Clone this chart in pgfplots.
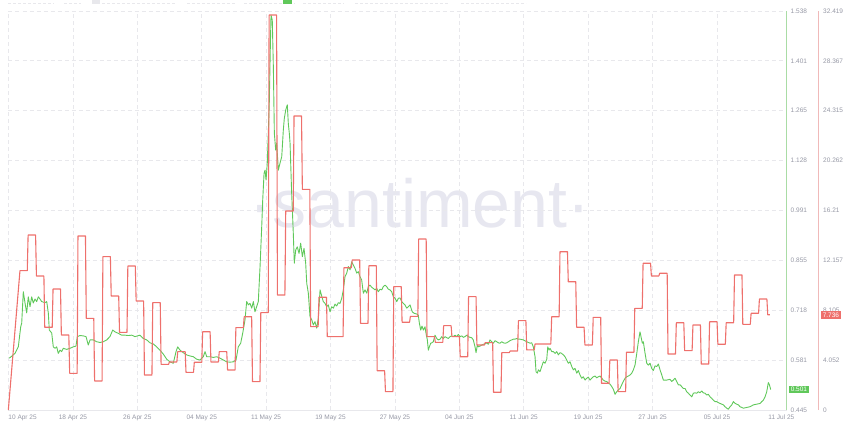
\documentclass[border=0pt]{standalone}
\usepackage{fontspec}
\setmainfont{Liberation Sans}
\usepackage{pgfplots}
\pgfplotsset{compat=1.18}
\definecolor{lgreen}{RGB}{96,200,90}
\definecolor{lred}{RGB}{238,112,108}
\definecolor{gaxis}{RGB}{170,220,165}
\definecolor{raxis}{RGB}{240,185,185}
\definecolor{tickgray}{RGB}{150,152,165}
\definecolor{gridgray}{RGB}{232,232,236}
\definecolor{wm}{RGB}{231,231,240}
\newcommand{\tfont}{\fontsize{6.5}{7}\selectfont}
\begin{document}
\begin{tikzpicture}[x=1pt,y=1pt]
\useasboundingbox (0,0) rectangle (850,428);
% cropped header strip
\foreach \a/\b in {8/54,64/81,92/176,187/236,244/295,303/344,355/449,461/526}
  {\draw[gridgray, line width=0.8pt, dash pattern=on 3pt off 2pt] (\a,424.5) -- (\b,424.5);}
\fill[lgreen] (283,424) rectangle (292,428);
\fill[gridgray] (92,424) rectangle (100,428);
\node[anchor=base, text=wm, font=\fontsize{68}{68}\selectfont, inner sep=0pt] at (420,200) {·santiment·};
\begin{axis}[
  at={(8.5pt,18pt)}, anchor=south west,
  scale only axis, width=778pt, height=399pt,
  xmin=-0.31, xmax=93.31, ymin=0.445, ymax=1.538,
  axis x line*=bottom, axis y line*=right,
  x axis line style={draw=gridgray, line width=0.8pt, -},
  y axis line style={draw=gaxis, line width=1pt, -},
  xtick={-0.31,7.44,15.19,22.94,30.69,38.44,46.19,53.94,61.69,69.44,77.19,84.94},
  xticklabels={\makebox[0pt][l]{10 Apr 25},18 Apr 25,26 Apr 25,04 May 25,11 May 25,19 May 25,27 May 25,04 Jun 25,11 Jun 25,19 Jun 25,27 Jun 25,05 Jul 25},
  extra x ticks={92.69}, extra x tick labels={11 Jul 25},
  extra x tick style={grid=none},
  ytick={0.445,0.58162,0.71825,0.85488,0.9915,1.12812,1.26475,1.40138,1.538},
  yticklabels={0.445,0.581,0.718,0.855,0.991,1.128,1.265,1.401,1.538},
  xmajorgrids, ymajorgrids,
  major grid style={draw=gridgray, line width=0.8pt, dash pattern=on 4pt off 3pt},
  major tick length=0pt,
  xticklabel style={font=\tfont, text=tickgray, inner sep=0pt, yshift=-4.5pt},
  yticklabel style={font=\tfont, text=tickgray, inner sep=0pt, xshift=4pt},
  clip=false,
]
\addplot[lgreen, line width=0.9pt, line join=round] coordinates {
(-0.21,0.587) (0.11,0.593) (0.47,0.600) (0.87,0.618) (1.16,0.673) (1.28,0.683) (1.47,0.769) (1.68,0.738) (1.88,0.711) (2.07,0.755) (2.28,0.728) (2.48,0.755) (2.67,0.738) (2.88,0.749) (3.08,0.742) (3.28,0.755) (3.48,0.749) (3.68,0.742) (4.08,0.739) (4.29,0.742) (4.48,0.711) (4.60,0.664) (4.89,0.656) (5.08,0.618) (5.29,0.614) (5.49,0.618) (5.68,0.600) (5.89,0.609) (6.09,0.605) (6.28,0.614) (6.69,0.611) (7.09,0.614) (7.49,0.618) (7.81,0.620) (7.97,0.646) (8.29,0.649) (8.69,0.648) (9.02,0.646) (9.29,0.623) (9.50,0.637) (9.89,0.637) (10.30,0.632) (10.70,0.630) (11.10,0.632) (11.51,0.637) (11.90,0.646) (12.23,0.664) (12.51,0.659) (12.90,0.655) (13.31,0.650) (13.71,0.650) (14.11,0.649) (14.52,0.650) (14.91,0.646) (15.51,0.650) (15.91,0.641) (16.32,0.637) (16.72,0.629) (17.11,0.626) (17.52,0.618) (17.92,0.609) (18.32,0.598) (18.73,0.584) (19.12,0.577) (19.52,0.573) (19.85,0.605) (20.05,0.618) (20.33,0.609) (20.72,0.602) (21.13,0.596) (21.53,0.593) (21.93,0.591) (22.34,0.584) (22.73,0.582) (23.13,0.591) (23.34,0.605) (23.54,0.591) (23.94,0.591) (24.34,0.589) (24.74,0.591) (25.14,0.587) (25.54,0.582) (25.95,0.577) (26.35,0.576) (26.74,0.577) (27.07,0.582) (27.34,0.618) (27.63,0.628) (27.87,0.655) (28.15,0.692) (28.35,0.742) (28.55,0.733) (28.75,0.737) (28.96,0.724) (29.15,0.742) (29.35,0.714) (29.75,0.742) (29.96,0.838) (30.16,0.947) (30.28,1.020) (30.44,1.093) (30.56,1.102) (30.68,1.075) (30.83,1.121) (30.95,1.203) (31.07,1.285) (31.19,1.431) (31.28,1.527) (31.43,1.513) (31.56,1.385) (31.68,1.203) (31.84,1.157) (31.96,1.176) (32.16,1.102) (32.36,1.121) (32.57,1.139) (32.76,1.212) (32.88,1.244) (33.05,1.267) (33.24,1.281) (33.36,1.230) (33.48,1.203) (33.57,1.176) (33.75,1.048) (33.96,0.929) (34.08,0.847) (34.25,0.883) (34.44,0.892) (34.65,0.874) (34.85,0.902) (35.05,0.865) (35.25,0.888) (35.45,0.847) (35.58,0.792) (35.77,0.765) (35.97,0.701) (36.18,0.692) (36.37,0.678) (36.57,0.687) (36.78,0.669) (36.97,0.697) (37.18,0.774) (37.38,0.757) (37.57,0.742) (37.78,0.737) (37.98,0.728) (38.17,0.733) (38.38,0.714) (38.58,0.728) (38.78,0.724) (38.98,0.735) (39.19,0.730) (39.38,0.739) (39.58,0.737) (39.79,0.751) (39.98,0.774) (40.18,0.810) (40.39,0.820) (40.58,0.838) (40.79,0.829) (40.99,0.851) (41.18,0.842) (41.39,0.833) (41.59,0.820) (41.78,0.824) (41.99,0.810) (42.19,0.801) (42.39,0.765) (42.59,0.774) (42.80,0.765) (42.99,0.783) (43.19,0.787) (43.40,0.781) (43.59,0.778) (43.79,0.774) (44.00,0.778) (44.19,0.769) (44.40,0.776) (44.60,0.774) (44.79,0.783) (45.00,0.787) (45.20,0.783) (45.39,0.776) (45.60,0.774) (45.80,0.769) (46.00,0.755) (46.20,0.751) (46.41,0.742) (46.60,0.751) (46.80,0.752) (47.01,0.742) (47.20,0.737) (47.40,0.733) (47.61,0.724) (47.80,0.728) (48.01,0.733) (48.13,0.724) (48.28,0.714) (48.49,0.710) (48.81,0.708) (49.00,0.705) (49.13,0.683) (49.29,0.664) (49.45,0.675) (49.61,0.664) (49.81,0.673) (49.93,0.655) (50.09,0.637) (50.21,0.609) (50.33,0.618) (50.50,0.628) (50.62,0.629) (50.81,0.632) (51.01,0.650) (51.22,0.641) (51.41,0.637) (51.62,0.639) (51.82,0.646) (52.01,0.641) (52.22,0.646) (52.42,0.643) (52.62,0.641) (52.82,0.646) (53.02,0.648) (53.22,0.646) (53.42,0.650) (53.63,0.646) (53.82,0.652) (54.02,0.646) (54.23,0.648) (54.42,0.644) (54.62,0.646) (54.83,0.650) (55.02,0.646) (55.23,0.644) (55.43,0.643) (55.62,0.637) (55.83,0.618) (55.95,0.602) (56.11,0.623) (56.23,0.618) (56.43,0.620) (56.63,0.623) (56.83,0.625) (57.03,0.626) (57.24,0.629) (57.43,0.625) (57.63,0.637) (57.84,0.632) (58.03,0.628) (58.24,0.635) (58.44,0.632) (58.63,0.629) (58.84,0.628) (59.04,0.632) (59.23,0.629) (59.44,0.628) (59.64,0.629) (59.84,0.632) (60.04,0.635) (60.24,0.637) (60.44,0.639) (60.64,0.639) (60.85,0.641) (61.04,0.639) (61.24,0.639) (61.64,0.637) (62.05,0.632) (62.45,0.628) (62.65,0.629) (62.84,0.618) (63.05,0.591) (63.17,0.550) (63.33,0.546) (63.45,0.555) (63.65,0.550) (63.85,0.564) (64.05,0.577) (64.25,0.573) (64.46,0.584) (64.58,0.618) (64.73,0.609) (64.85,0.614) (65.06,0.605) (65.25,0.605) (65.46,0.600) (65.66,0.605) (65.85,0.596) (66.06,0.602) (66.26,0.600) (66.45,0.596) (66.66,0.591) (66.86,0.582) (67.06,0.573) (67.26,0.577) (67.47,0.564) (67.66,0.555) (67.86,0.559) (68.07,0.546) (68.26,0.553) (68.46,0.541) (68.67,0.532) (68.86,0.536) (69.07,0.527) (69.27,0.532) (69.46,0.535) (69.67,0.527) (69.87,0.532) (70.06,0.536) (70.27,0.538) (70.47,0.533) (70.67,0.536) (70.87,0.538) (71.08,0.532) (71.27,0.527) (71.47,0.524) (71.68,0.523) (71.87,0.518) (72.07,0.516) (72.28,0.509) (72.47,0.502) (72.68,0.488) (72.88,0.495) (73.07,0.500) (73.28,0.504) (73.48,0.514) (73.67,0.523) (73.88,0.532) (74.08,0.536) (74.28,0.538) (74.48,0.541) (74.69,0.546) (74.88,0.555) (75.08,0.568) (75.29,0.600) (75.48,0.632) (75.68,0.659) (75.80,0.646) (75.96,0.628) (76.08,0.632) (76.29,0.600) (76.49,0.573) (76.68,0.568) (76.89,0.573) (77.09,0.559) (77.28,0.553) (77.49,0.566) (77.69,0.564) (77.89,0.571) (78.09,0.555) (78.30,0.541) (78.49,0.527) (78.90,0.527) (79.29,0.529) (79.50,0.523) (79.69,0.527) (79.90,0.532) (80.10,0.523) (80.29,0.514) (80.50,0.514) (80.70,0.509) (80.89,0.504) (81.10,0.504) (81.30,0.495) (81.50,0.491) (81.70,0.486) (81.91,0.481) (82.10,0.491) (82.30,0.492) (82.51,0.491) (82.70,0.495) (82.90,0.492) (83.11,0.497) (83.30,0.492) (83.51,0.491) (83.71,0.486) (83.90,0.488) (84.11,0.481) (84.31,0.477) (84.51,0.472) (84.71,0.468) (84.91,0.468) (85.11,0.465) (85.31,0.463) (85.52,0.461) (85.71,0.459) (85.91,0.454) (86.12,0.450) (86.31,0.447) (86.51,0.454) (86.72,0.459) (86.91,0.468) (87.12,0.463) (87.32,0.461) (87.51,0.459) (87.72,0.454) (87.92,0.452) (88.12,0.450) (88.52,0.452) (88.92,0.454) (89.32,0.459) (89.73,0.461) (90.12,0.463) (90.33,0.468) (90.52,0.472) (90.73,0.481) (90.93,0.495) (91.12,0.520) (91.24,0.515) (91.41,0.501)
};
\node[fill=lgreen, text=white, anchor=west, inner sep=1.6pt, font=\tfont] at (axis cs:93.31,0.501) [xshift=2.5pt] {0.501};
\end{axis}
\begin{axis}[
  at={(8.5pt,18pt)}, anchor=south west,
  scale only axis, width=778pt, height=399pt,
  xmin=-0.31, xmax=93.31, ymin=0, ymax=32.419,
  hide x axis, axis y line*=right,
  y axis line style={draw=raxis, line width=1pt, -, xshift=32pt},
  ytick={0,4.052375,8.10475,12.157125,16.2095,20.261875,24.31425,28.366625,32.419},
  yticklabels={0,4.052,8.105,12.157,16.21,20.262,24.315,28.367,32.419},
  major tick length=0pt,
  yticklabel style={font=\tfont, text=tickgray, inner sep=0pt, xshift=36.5pt},
  clip=false,
]
\addplot[lred, line width=1.1pt, line join=round] coordinates {
(-0.33,0) (1.07,11.32)
(1.95,11.32) (2.05,14.22) (2.95,14.22) (3.05,10.89) (3.95,10.89) (4.05,6.72) (4.95,6.72) (5.05,9.83)
(5.95,9.83) (6.05,6.09) (6.95,6.09) (7.05,2.98) (7.95,2.98) (8.05,14.14) (8.95,14.14) (9.05,7.45)
(9.95,7.45) (10.05,2.36) (10.95,2.36) (11.05,12.46) (11.95,12.46) (12.05,9.26) (12.95,9.26) (13.05,6.31)
(13.95,6.31) (14.05,11.70) (14.95,11.70) (15.05,8.86) (15.95,8.86) (16.05,2.84) (16.95,2.84) (17.05,8.72)
(17.95,8.72) (18.05,3.71) (18.95,3.71) (19.05,3.90) (19.95,3.90) (20.05,4.74) (20.95,4.74) (21.05,3.06)
(21.95,3.06) (22.05,3.88) (22.95,3.88) (23.05,6.36) (23.95,6.36) (24.05,3.90) (24.95,3.90) (25.05,4.74)
(25.95,4.74) (26.05,3.25) (26.95,3.25) (27.05,6.69) (27.95,6.69) (28.05,7.58) (28.95,7.58) (29.05,2.30)
(29.95,2.30) (30.05,7.91) (30.95,7.91) (31.05,32.09) (31.95,32.09) (32.05,9.34) (32.95,9.34) (33.05,16.17)
(33.95,16.17) (34.05,23.89) (34.95,23.89) (35.05,17.93) (35.95,17.93) (36.05,6.77) (36.95,6.77) (37.05,9.16)
(37.95,9.16) (38.05,5.96) (38.95,5.96) (39.05,5.96) (39.95,5.96) (40.05,11.56) (40.95,11.56) (41.05,12.19)
(41.95,12.19) (42.05,7.04) (42.95,7.04) (43.05,11.72) (43.95,11.72) (44.05,3.19) (44.95,3.19) (45.05,1.49)
(45.95,1.49) (46.05,10.02) (46.95,10.02) (47.05,7.13) (47.95,7.13) (48.05,7.61) (48.95,7.61) (49.05,13.89)
(49.95,13.89) (50.05,5.96) (50.95,5.96) (51.05,5.50) (51.95,5.50) (52.05,6.85) (52.95,6.85) (53.05,5.96)
(53.95,5.96) (54.05,4.33) (54.95,4.33) (55.05,9.21) (55.95,9.21) (56.05,5.28) (56.95,5.28) (57.05,5.47)
(57.95,5.47) (58.05,1.44) (58.95,1.44) (59.05,4.66) (59.95,4.66) (60.05,4.79) (60.95,4.79) (61.05,7.26)
(61.95,7.26) (62.05,4.88) (62.95,4.88) (63.05,5.36) (63.95,5.36) (64.05,5.36) (64.95,5.36) (65.05,7.58)
(65.95,7.58) (66.05,12.86) (66.95,12.86) (67.05,10.42) (67.95,10.42) (68.05,6.72) (68.95,6.72) (69.05,5.28)
(69.95,5.28) (70.05,7.53) (70.95,7.53) (71.05,2.17) (71.95,2.17) (72.05,4.06) (72.95,4.06) (73.05,1.49)
(73.95,1.49) (74.05,4.69) (74.95,4.69) (75.05,8.26) (75.95,8.26) (76.05,11.92) (76.95,11.92) (77.05,10.89)
(77.95,10.89) (78.05,11.11) (78.95,11.11) (79.05,4.55) (79.95,4.55) (80.05,7.09) (80.95,7.09) (81.05,4.82)
(81.95,4.82) (82.05,6.91) (82.95,6.91) (83.05,3.74) (83.95,3.74) (84.05,7.17) (84.95,7.17) (85.05,5.34)
(85.95,5.34) (86.05,7.09) (86.95,7.09) (87.05,10.97) (87.95,10.97) (88.05,6.96) (88.95,6.96) (89.05,7.86)
(89.95,7.86) (90.05,9.02) (90.95,9.02) (91.05,7.74) (91.32,7.74)
};
\node[fill=lred, text=white, anchor=west, inner sep=1.6pt, font=\tfont] at (axis cs:93.31,7.736) [xshift=34.5pt] {7.736};
\end{axis}
\end{tikzpicture}
\end{document}
